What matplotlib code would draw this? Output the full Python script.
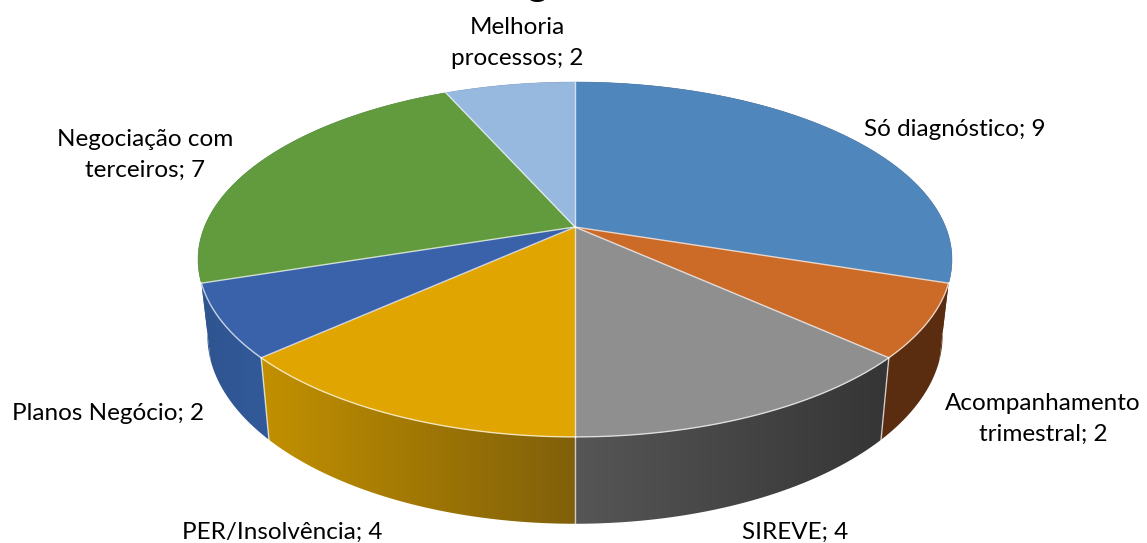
import numpy as np
import matplotlib
matplotlib.use("Agg")
import matplotlib.pyplot as plt
from matplotlib.colors import LinearSegmentedColormap
from matplotlib.patches import Polygon

# Data
names = ["Só diagnóstico", "Acompanhamento\ntrimestral", "SIREVE", "PER/Insolvência",
         "Planos Negócio", "Negociação com\nterceiros", "Melhoria\nprocessos"]
values = [9, 2, 4, 4, 2, 7, 2]

# Colours: top face, side wall at its left and right end
top_colors = ["#4F86BC", "#CC6A28", "#8F8F8F", "#E0A500", "#3A62AB", "#629A3E", "#97B8DF"]
side_left = ["#5B2D10", "#5B2D10", "#565656", "#C29000", "#2F5590", "#2F5590", "#2F5590"]
side_right = ["#5B2D10", "#5B2D10", "#353535", "#80600A", "#325A9A", "#2F5590", "#5B2D10"]

label_x = [955, 1043, 795, 282, 108, 145, 517]
label_y = [129, 419, 532, 532, 413, 155, 43]

EDGE = (1, 1, 1, 0.7)


def top_face(theta):
    # perspective view of the unit circle, angle clockwise from 12 o'clock
    X, Y = np.sin(theta), np.cos(theta)
    d = 1 + 0.183 * Y
    return 575 + 370.6 * X / d, 227 - 171.5 * Y / d


def base_face(theta):
    X, Y = np.sin(theta), np.cos(theta)
    d = 1 + 0.183 * Y
    return 575 + 361.4 * X / d, 301 - 182 * Y / d


fig = plt.figure(figsize=(11.47, 5.43), dpi=100)
ax = fig.add_axes([0, 0, 1, 1])
ax.axis("off")

edges = np.deg2rad(np.cumsum([0] + values) / sum(values) * 360)
gradient = np.linspace(0, 1, 256).reshape(1, -1)

# side walls: a horizontal gradient clipped to the shape of the wall
for i in range(len(values)):
    t = np.linspace(edges[i], edges[i + 1], 120)
    x1, y1 = top_face(t)
    x2, y2 = base_face(t)
    xs = np.r_[x1, x2[::-1]]
    ys = np.r_[y1, y2[::-1]]
    wall = Polygon(np.c_[xs, ys], closed=True, transform=ax.transData, facecolor="none", edgecolor="none")
    ax.add_patch(wall)
    cmap = LinearSegmentedColormap.from_list("side", [side_left[i], side_right[i]])
    im = ax.imshow(gradient, extent=[xs.min(), xs.max(), ys.max(), ys.min()], aspect="auto",
                   cmap=cmap, interpolation="bilinear", zorder=1)
    im.set_clip_path(wall)

ax.set_xlim(0, 1147)
ax.set_ylim(543, 0)

# top faces
for i in range(len(values)):
    t = np.linspace(edges[i], edges[i + 1], 120)
    x, y = top_face(t)
    pts = [(575, 227)] + list(zip(x, y))
    ax.add_patch(Polygon(pts, closed=True, facecolor=top_colors[i], edgecolor=top_colors[i], lw=0.4, zorder=2))

# thin light lines between the slices and along the front rim
for a in edges[:-1]:
    x, y = top_face(a)
    ax.plot([575, x], [227, y], color=EDGE, lw=1, zorder=3)
    if np.cos(a) < -0.5:
        x2, y2 = base_face(a)
        ax.plot([x, x2], [y, y2], color=EDGE, lw=1, zorder=3)
t = np.linspace(edges[1], edges[5], 200)
x, y = top_face(t)
ax.plot(x, y, color=EDGE, lw=1, zorder=3)

# only the tail of the chart title shows, the rest is cut off by the top edge
ax.text(538, -5, "g", family="Lato", fontsize=30, ha="center", va="baseline", color="black", zorder=4)

for name, value, lx, ly in zip(names, values, label_x, label_y):
    ax.text(lx, ly, f"{name}; {value}", family="Lato", fontsize=17.5, ha="center", va="center",
            linespacing=1.6, color="black", zorder=4)

fig.savefig("out.png", dpi=100)
